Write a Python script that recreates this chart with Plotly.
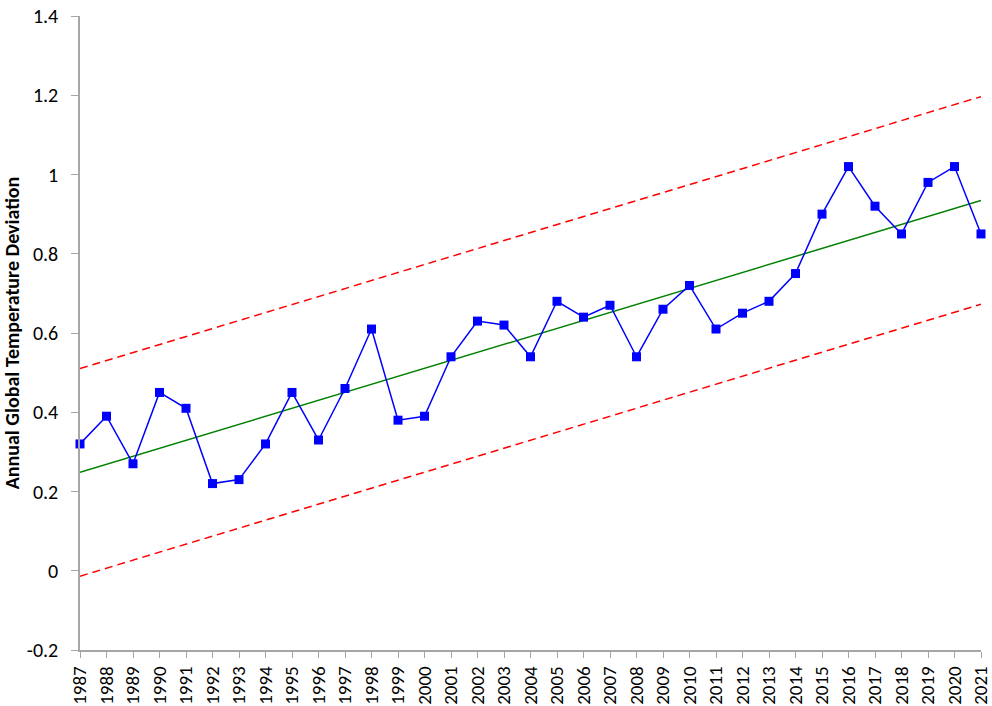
import numpy as np
import plotly.graph_objects as go

years = list(range(1987, 2022))
temp_dev = [0.32, 0.39, 0.27, 0.45, 0.41, 0.22, 0.23, 0.32, 0.45, 0.33,
            0.46, 0.61, 0.38, 0.39, 0.54, 0.63, 0.62, 0.54, 0.68, 0.64,
            0.67, 0.54, 0.66, 0.72, 0.61, 0.65, 0.68, 0.75, 0.90, 1.02,
            0.92, 0.85, 0.98, 1.02, 0.85]
band_half_width = 0.262
y_ticks = [-0.2, 0, 0.2, 0.4, 0.6, 0.8, 1.0, 1.2, 1.4]
y_tick_text = ["-0.2", "0", "0.2", "0.4", "0.6", "0.8", "1", "1.2", "1.4"]

# least-squares trend and the band around it
x = np.array(years, dtype=float)
slope, intercept = np.polyfit(x, np.array(temp_dev), 1)
trend = slope * x + intercept
upper = trend + band_half_width
lower = trend - band_half_width

font = "Carlito, Calibri, 'Open Sans', sans-serif"

fig = go.Figure()
fig.add_trace(go.Scatter(x=years, y=upper, mode="lines",
                         line=dict(color="#ff0000", width=1.5, dash="8px,5px"),
                         hoverinfo="skip"))
fig.add_trace(go.Scatter(x=years, y=lower, mode="lines",
                         line=dict(color="#ff0000", width=1.5, dash="8px,5px"),
                         hoverinfo="skip"))
fig.add_trace(go.Scatter(x=years, y=trend, mode="lines",
                         line=dict(color="#008000", width=1.5)))
fig.add_trace(go.Scatter(x=years, y=temp_dev, mode="lines+markers",
                         line=dict(color="#0000ff", width=1.5),
                         marker=dict(symbol="square", size=9, color="#0000ff"),
                         cliponaxis=False))

fig.update_layout(
    width=992, height=706,
    margin=dict(l=80, r=11, t=16, b=56),
    paper_bgcolor="white", plot_bgcolor="white",
    showlegend=False,
    font=dict(family=font, size=19, color="black"),
)
fig.update_xaxes(range=[1987, 2021], tickmode="array", tickvals=years,
                 ticktext=[str(y) for y in years], tickangle=-90,
                 automargin=False,
                 showgrid=False, zeroline=False,
                 showline=True, linecolor="#a6a6a6", linewidth=1.5,
                 ticks="outside", tickcolor="#a6a6a6", ticklen=6,
                 ticklabeloverflow="allow", ticklabelstandoff=1,
                 tickfont=dict(size=19))
fig.update_yaxes(range=[-0.2, 1.4], tickmode="array", tickvals=y_ticks,
                 ticktext=y_tick_text,
                 automargin=False,
                 showgrid=False, zeroline=False,
                 showline=True, linecolor="#a6a6a6", linewidth=1.5,
                 ticks="outside", tickcolor="#a6a6a6", ticklen=7,
                 ticklabelstandoff=9,
                 tickfont=dict(size=20),
                 title=dict(text="<b>Annual Global Temperature Deviation</b>",
                            font=dict(size=20), standoff=9))

fig.write_html("out.html")
